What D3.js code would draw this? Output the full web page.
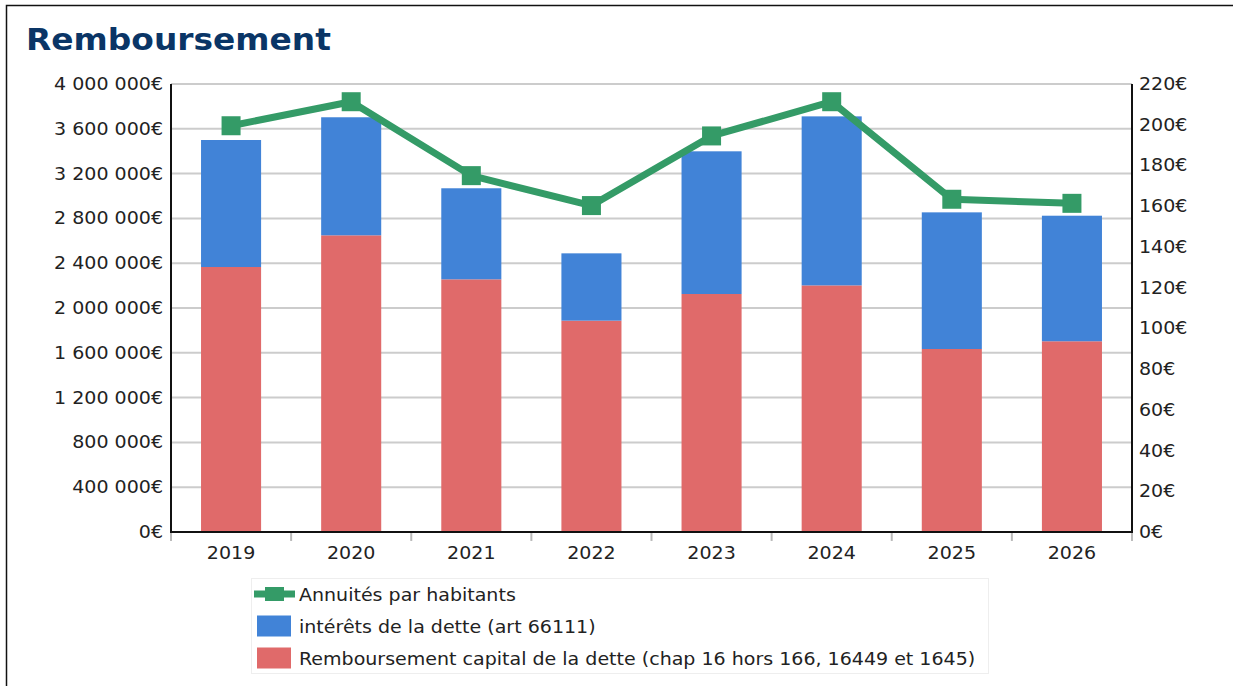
<!DOCTYPE html>
<html>
<head>
  <script src="https://d3js.org/d3.v7.min.js"></script>
  <style>
    body { margin: 0; background: #fff; }
    svg text { font-family: "DejaVu Sans", sans-serif; fill: #222; }
  </style>
</head>
<body>
  <svg id="chart" width="1233" height="686"></svg>
  <script>
    var years = ['2019', '2020', '2021', '2022', '2023', '2024', '2025', '2026'];
    var capital = [2366000, 2649000, 2256000, 1887000, 2125000, 2202000, 1634000, 1703000];
    var interets = [1134000, 1054000, 813000, 601000, 1274000, 1509000, 1220000, 1121000];
    var annuites = [199.5, 211.3, 175.0, 160.3, 194.5, 211.3, 163.4, 161.4];
    var leftTicks = [0, 400000, 800000, 1200000, 1600000, 2000000, 2400000, 2800000, 3200000, 3600000, 4000000];
    var rightTicks = [0, 20, 40, 60, 80, 100, 120, 140, 160, 180, 200, 220];
    var legendLabels = [
      'Annuités par habitants',
      'intérêts de la dette (art 66111)',
      'Remboursement capital de la dette (chap 16 hors 166, 16449 et 1645)'
    ];

    var red = '#e06a6a', blue = '#4183d7', green = '#349b67';
    var plotLeft = 171, plotRight = 1132, plotTop = 84, plotBottom = 532;
    var stretch = 1.12; // text in the source is a bit wide

    var svg = d3.select('#chart');

    // frame
    svg.append('rect')
      .attr('x', 6.5).attr('y', 5.5)
      .attr('width', 1400).attr('height', 800)
      .attr('fill', 'none').attr('stroke', '#111').attr('stroke-width', 1.5);

    svg.append('text')
      .attr('transform', 'translate(26,50) scale(1.06,1)')
      .style('font-size', '31px').style('font-weight', 'bold')
      .style('fill', '#0a3566')
      .text('Remboursement');

    var x = d3.scaleBand().domain(years).range([plotLeft, plotRight]).paddingInner(0.5).paddingOuter(0.25);
    var yL = d3.scaleLinear().domain([0, 4000000]).range([plotBottom, plotTop]);
    var yR = d3.scaleLinear().domain([0, 220]).range([plotBottom, plotTop]);

    function euro(d) {
      return d3.format(',')(d).replace(/,/g, ' ') + '€';
    }
    function at(px, py) {
      return 'translate(' + px + ',' + py + ') scale(' + stretch + ',1)';
    }

    // gridlines
    svg.append('g').selectAll('line').data(leftTicks.slice(1)).enter().append('line')
      .attr('x1', plotLeft).attr('x2', plotRight)
      .attr('y1', function (d) { return yL(d); })
      .attr('y2', function (d) { return yL(d); })
      .attr('stroke', '#cccccc').attr('stroke-width', 2);

    // stacked bars
    var stackData = years.map(function (y, i) {
      return { year: y, capital: capital[i], interets: interets[i] };
    });
    var series = d3.stack().keys(['capital', 'interets'])(stackData);
    var colors = { capital: red, interets: blue };

    svg.append('g').selectAll('g').data(series).enter().append('g')
      .attr('fill', function (s) { return colors[s.key]; })
      .selectAll('rect').data(function (s) { return s; }).enter().append('rect')
      .attr('x', function (d) { return x(d.data.year); })
      .attr('width', x.bandwidth())
      .attr('y', function (d) { return yL(d[1]); })
      .attr('height', function (d) { return yL(d[0]) - yL(d[1]); });

    // x ticks at band boundaries
    var bounds = d3.range(years.length + 1).map(function (i) {
      return plotLeft + i * (plotRight - plotLeft) / years.length;
    });
    svg.append('g').selectAll('line').data(bounds).enter().append('line')
      .attr('x1', function (d) { return d; }).attr('x2', function (d) { return d; })
      .attr('y1', plotBottom).attr('y2', plotBottom + 9)
      .attr('stroke', '#bbbbbb').attr('stroke-width', 2);

    // axes lines
    svg.append('line').attr('x1', plotLeft).attr('x2', plotLeft).attr('y1', plotTop).attr('y2', plotBottom)
      .attr('stroke', '#111').attr('stroke-width', 2);
    svg.append('line').attr('x1', plotRight).attr('x2', plotRight).attr('y1', plotTop).attr('y2', plotBottom)
      .attr('stroke', '#111').attr('stroke-width', 2);
    svg.append('line').attr('x1', plotLeft - 1).attr('x2', plotRight + 1).attr('y1', plotBottom).attr('y2', plotBottom)
      .attr('stroke', '#111').attr('stroke-width', 2);

    // tick labels
    svg.append('g').selectAll('text').data(leftTicks).enter().append('text')
      .attr('transform', function (d) { return at(plotLeft - 8, yL(d)); })
      .attr('dy', '0.35em')
      .attr('text-anchor', 'end')
      .style('font-size', '17px')
      .text(euro);

    svg.append('g').selectAll('text').data(rightTicks).enter().append('text')
      .attr('transform', function (d) { return at(plotRight + 7, yR(d)); })
      .attr('dy', '0.35em')
      .style('font-size', '17px')
      .text(euro);

    svg.append('g').selectAll('text').data(years).enter().append('text')
      .attr('transform', function (d) { return at(x(d) + x.bandwidth() / 2, 559); })
      .attr('text-anchor', 'middle')
      .style('font-size', '17px')
      .text(function (d) { return d; });

    // line series
    var line = d3.line()
      .x(function (d, i) { return x(years[i]) + x.bandwidth() / 2; })
      .y(function (d) { return yR(d); });

    svg.append('path').datum(annuites)
      .attr('d', line)
      .attr('fill', 'none')
      .attr('stroke', green)
      .attr('stroke-width', 7)
      .attr('stroke-linejoin', 'round');

    svg.append('g').selectAll('rect').data(annuites).enter().append('rect')
      .attr('x', function (d, i) { return x(years[i]) + x.bandwidth() / 2 - 9.5; })
      .attr('y', function (d) { return yR(d) - 9.5; })
      .attr('width', 19).attr('height', 19)
      .attr('fill', green);

    // legend
    var lg = svg.append('g');
    lg.append('rect')
      .attr('x', 251.5).attr('y', 578.5)
      .attr('width', 737).attr('height', 95)
      .attr('fill', '#fff').attr('stroke', '#eeeeee');

    lg.append('line').attr('x1', 254).attr('x2', 295).attr('y1', 594).attr('y2', 594)
      .attr('stroke', green).attr('stroke-width', 7);
    lg.append('rect').attr('x', 265).attr('y', 587).attr('width', 19).attr('height', 14).attr('fill', green);
    lg.append('rect').attr('x', 257).attr('y', 615.5).attr('width', 34).attr('height', 21).attr('fill', blue);
    lg.append('rect').attr('x', 257).attr('y', 647.5).attr('width', 34).attr('height', 21).attr('fill', red);

    lg.selectAll('text.lab').data(legendLabels).enter().append('text')
      .attr('class', 'lab')
      .attr('transform', function (d, i) { return at(299, 601 + i * 32); })
      .style('font-size', '17px')
      .text(function (d) { return d; });
  </script>
</body>
</html>
